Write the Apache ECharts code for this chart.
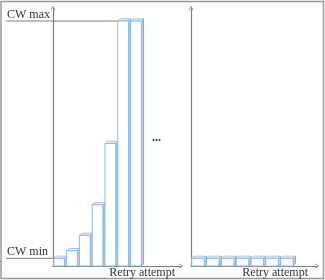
<!DOCTYPE html>
<html>
<head>
<meta charset="utf-8">
<script src="https://cdn.jsdelivr.net/npm/echarts@6/dist/echarts.min.js"></script>
<style>
html,body{margin:0;padding:0;background:#fff}
#main{width:325px;height:280px}
</style>
</head>
<body>
<div id="main"></div>
<script>
// retry attempts and contention window size (in CW min units)
var attempts = [1, 2, 3, 4, 5, 6, 7];
var cwGrowing = [1, 2, 4, 8, 16, 32, 32];
var cwReset = [1, 1, 1, 1, 1, 1, 1];
var cwLevels = [
  {name: 'CW max', value: 32},
  {name: 'CW min', value: 1}
];
var axisName = 'Retry attempt';

var font = '"Liberation Serif", "DejaVu Serif", serif';
var axisColor = '#7f7f7f';
var chevron = 'path://M5,0 L10,9 L9,10 L5,2.5 L1,10 L0,9 Z';

var myChart = echarts.init(document.getElementById('main'));

function bar3d(params, api) {
  var x = api.value(0) - 0.5;
  var v = api.value(1);
  var band = api.size([1, 0])[0];
  var base = api.coord([x, 0]);
  var top = api.coord([x, v]);
  var w = band * 0.84, d = 2.2;
  var x0 = base[0] - band / 2 + 0.8;
  var y0 = top[1], y1 = base[1];
  return {
    type: 'group',
    children: [
      {type: 'polygon', shape: {points: [[x0 + w, y0], [x0 + w + d, y0 - d], [x0 + w + d, y1 - d], [x0 + w, y1]]},
        style: {fill: '#b7d3ee', stroke: '#5d9bd5', lineWidth: 0.8}},
      {type: 'polygon', shape: {points: [[x0, y0], [x0 + d, y0 - d], [x0 + w + d, y0 - d], [x0 + w, y0]]},
        style: {fill: '#e4eff9', stroke: '#8dbbe4', lineWidth: 0.8}},
      {type: 'rect', shape: {x: x0, y: y0, width: w, height: y1 - y0},
        style: {fill: '#fff', stroke: '#8dbbe4', lineWidth: 1}}
    ]
  };
}

function levelMark(params, api) {
  var idx = api.value(0);
  var y = api.coord([0, api.value(1)])[1];
  var band = api.size([1, 0])[0];
  var xEnd = api.coord([idx, 0])[0] + 0.8;
  var xStart = params.coordSys.x - 47;
  return {
    type: 'group',
    children: [
      {type: 'line', shape: {x1: xStart, y1: y, x2: xEnd, y2: y},
        style: {stroke: axisColor, lineWidth: 1}},
      {type: 'text', x: xStart + 1, y: y - 0.5,
        style: {text: cwLevels[params.dataIndex].name, fill: '#333', font: '12px ' + font,
          align: 'left', verticalAlign: 'bottom'}}
    ]
  };
}

function xAxisOf(gridIndex, max, gap) {
  return {
    gridIndex: gridIndex, type: 'value', min: 0, max: max,
    axisLine: {lineStyle: {color: axisColor, width: 1.2}, symbol: ['none', chevron], symbolSize: [6, 5]},
    axisTick: {show: false}, axisLabel: {show: false}, splitLine: {show: false},
    name: axisName, nameLocation: 'end', nameGap: gap,
    nameTextStyle: {align: 'right', verticalAlign: 'top', padding: [1, 0, 0, 0],
      fontFamily: font, fontSize: 12, color: '#333'}
  };
}

function yAxisOf(gridIndex) {
  return {
    gridIndex: gridIndex, type: 'value', min: 0, max: 33.7,
    axisLine: {show: true, lineStyle: {color: axisColor, width: 1.2}, symbol: ['none', chevron], symbolSize: [6, 5]},
    axisTick: {show: false}, axisLabel: {show: false}, splitLine: {show: false}
  };
}

option = {
  animation: false,
  grid: [
    {left: 53, top: 8, width: 128, bottom: 14},
    {left: 191, top: 8, width: 126, bottom: 14}
  ],
  xAxis: [xAxisOf(0, 10, -6), xAxisOf(1, 8.5, -9)],
  yAxis: [yAxisOf(0), yAxisOf(1)],
  graphic: [
    {type: 'rect', shape: {x: 1, y: 1.5, width: 322.5, height: 277}, silent: true,
      style: {fill: 'none', stroke: '#999', lineWidth: 1.5}},
    {type: 'text', x: 152, y: 138, silent: true,
      style: {text: '...', fill: '#333', font: 'bold 12px ' + font, verticalAlign: 'middle'}}
  ],
  series: [
    {
      type: 'custom', xAxisIndex: 0, yAxisIndex: 0, renderItem: bar3d,
      data: attempts.map(function (a, i) { return [a, cwGrowing[i]]; })
    },
    {
      type: 'custom', xAxisIndex: 0, yAxisIndex: 0, renderItem: levelMark, z: 1,
      data: cwLevels.map(function (l) { return [cwGrowing.indexOf(l.value), l.value]; })
    },
    {
      type: 'custom', xAxisIndex: 1, yAxisIndex: 1, renderItem: bar3d,
      data: attempts.map(function (a, i) { return [a, cwReset[i]]; })
    }
  ]
};
myChart.setOption(option);

window.addEventListener('resize', function () {
  myChart.resize();
});
</script>
</body>
</html>
